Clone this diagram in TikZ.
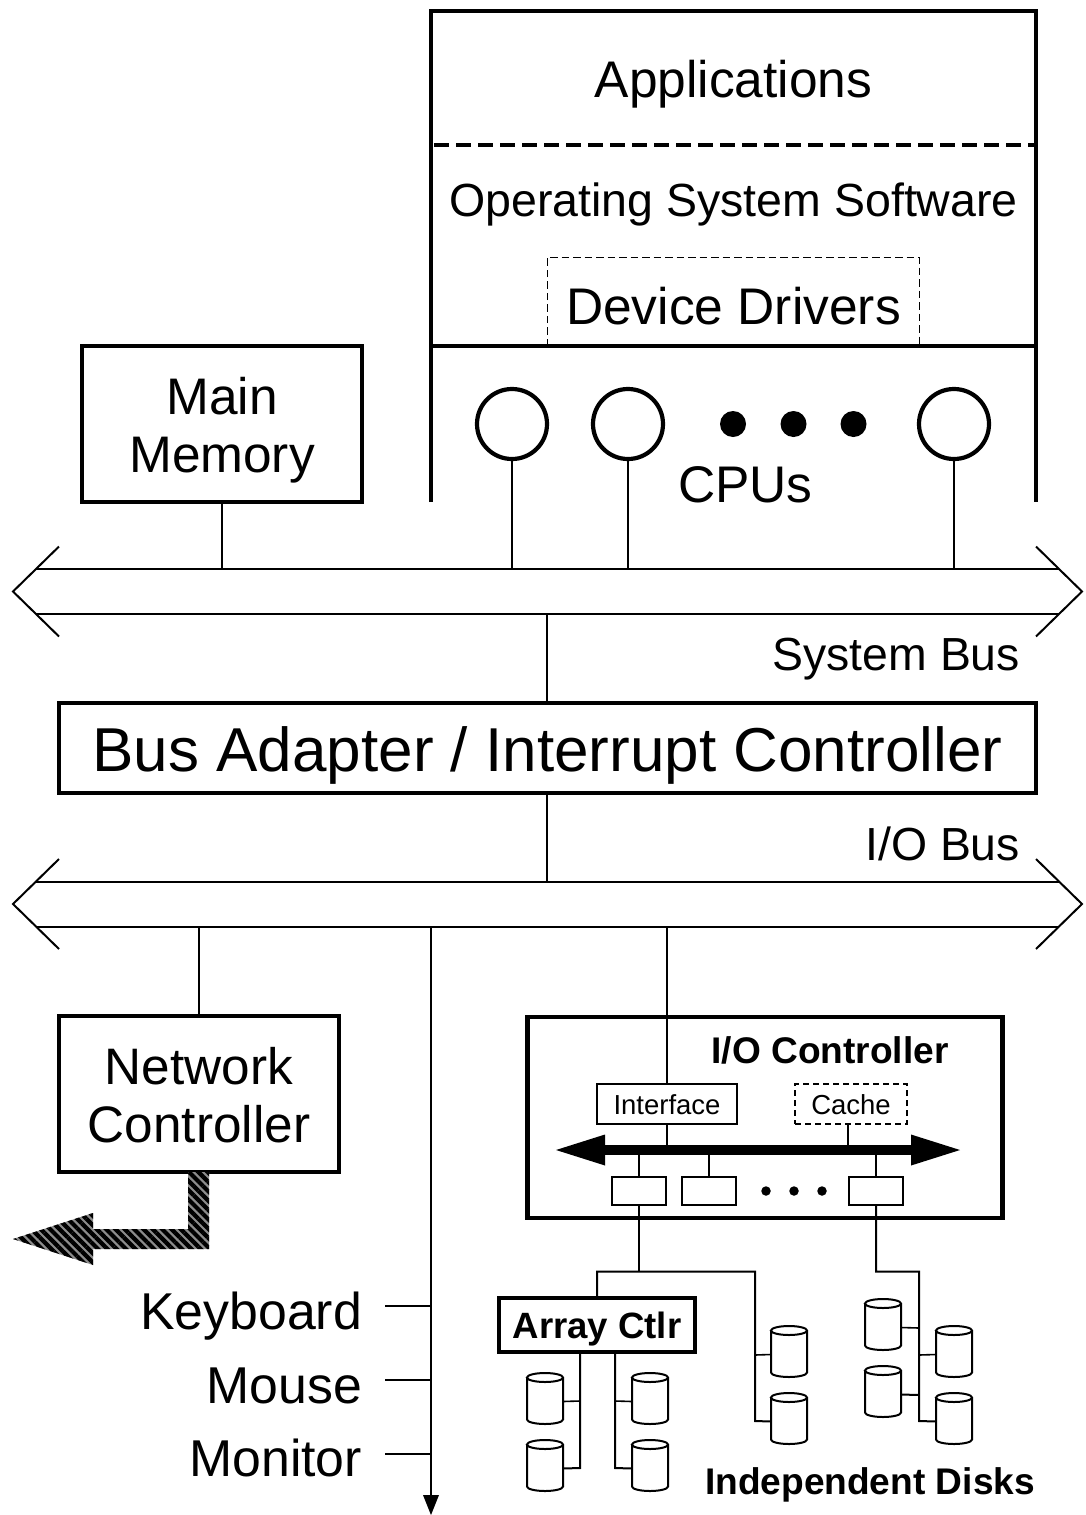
\documentclass[tikz,border=0pt]{standalone}
\usepackage{fontspec}
\setmainfont{Liberation Sans}
\usetikzlibrary{patterns.meta}
\newcommand{\lowered}[2]{\raisebox{-#1pt}[\height][\depth]{#2}}
\newcommand{\diskshape}[1]{%
  \draw[line width=2pt] ([yshift=-4.5pt]#1.north west) -- ([yshift=4.5pt]#1.south west)
    arc[start angle=180,end angle=360,x radius=18pt,y radius=4.5pt]
    -- ([yshift=-4.5pt]#1.north east)
    arc[start angle=0,end angle=360,x radius=18pt,y radius=4.5pt];
}
\tikzset{
  x=1pt,y=-1pt,
  every node/.style={inner sep=0pt,outer sep=0pt},
  fs/.style={font=\fontsize{#1}{#1}\selectfont},
  fsb/.style={font=\fontsize{#1}{#1}\selectfont\bfseries},
  heavy/.style={line width=4.6pt,line cap=butt},
  wire/.style={line width=2pt,line join=miter},
  thinwire/.style={line width=1.6pt},
  bigbox/.style={draw,line width=4.2pt,align=center,minimum width=#1},
  subbox/.style={draw,line width=2pt,minimum width=#1},
  slot/.style={draw,line width=2pt,minimum width=54pt,minimum height=28pt},
  disk/.style={minimum width=36pt,minimum height=51pt},
  cpu/.style={circle,draw,line width=4.2pt,minimum size=70pt},
  dot/.style={circle,fill=black,minimum size=#1},
  busarea/.style={minimum width=1069pt,minimum height=45pt},
  busline/.style={line width=2pt,line join=miter},
}
\begin{document}
\begin{tikzpicture}
\useasboundingbox (0,0) rectangle (1085,1515);
% software / CPU stack
\coordinate (stackTL) at (431,11);
\coordinate (stackTR) at (1036,11);
\coordinate (stackBL) at (431,502);
\coordinate (stackBR) at (1036,502);
\draw[heavy,line join=miter] (stackBL) -- (stackTL) -- (stackTR) -- (stackBR);
\draw[heavy] (stackTL |- 0,346) -- (stackTR |- 0,346);
\draw[heavy,dash pattern=on 15pt off 7pt,dash phase=-3pt] (stackTL |- 0,145) -- (stackTR |- 0,145);
\node[fs=51.5,anchor=base] (apps) at (733.5,97) {Applications};
\node[fs=46.5,anchor=base] (os) at (733.5,216.5) {Operating System Software};
\draw[line width=0.9pt,dash pattern=on 7.5pt off 4pt] (547,346) -- (547,257) -- (919,257) -- (919,346);
\node[fs=51.5,anchor=base] (drivers) at (733.5,324) {Device Drivers};
% CPUs
\node[cpu] (cpu1) at (512,424) {};
\node[cpu] (cpu2) at (628,424) {};
\node[cpu] (cpu3) at (954,424) {};
\node[dot=26pt] (d1) at (733,424) {};
\node[dot=26pt] (d2) at (793.5,424) {};
\node[dot=26pt] (d3) at (853.5,424) {};
\node[fs=51.5,anchor=base] (cpus) at (745.5,502) {CPUs};
% Buses
\node[busarea] (sysbus) at (547.5,591.5) {};
\node[busarea] (iobus) at (547.5,904) {};
\foreach \b in {sysbus,iobus}{
  \draw[busline] ([xshift=46pt,yshift=22.5pt]\b.north west) -- (\b.west) -- ([xshift=46pt,yshift=-22.5pt]\b.south west);
  \draw[busline] ([xshift=-46pt,yshift=22.5pt]\b.north east) -- (\b.east) -- ([xshift=-46pt,yshift=-22.5pt]\b.south east);
  \draw[busline] ([xshift=23pt]\b.north west) -- ([xshift=-23pt]\b.north east);
  \draw[busline] ([xshift=23pt]\b.south west) -- ([xshift=-23pt]\b.south east);
}
\node[fs=46.4,anchor=base east] (sysbuslabel) at (1020,670) {System Bus};
\node[fs=46.4,anchor=base east] (iobuslabel) at (1020,860) {I/O Bus};
% Main boxes
\node[bigbox=280pt,minimum height=156pt,font=\fontsize{51.4}{58}\selectfont] (mem) at (222,424) {\lowered{6}{Main}\\\lowered{6}{Memory}};
\node[bigbox=977pt,minimum height=90pt,fs=62] (adapter) at (547.5,748) {\lowered{7}{Bus Adapter / Interrupt Controller}};
\node[bigbox=280pt,minimum height=156pt,font=\fontsize{51.3}{58}\selectfont] (net) at (199,1094) {\lowered{1}{Network}\\\lowered{1}{Controller}};
\node[bigbox=475pt,minimum height=201pt] (ioc) at (765,1117.5) {};
\node[fsb=37.1,anchor=base] (ioctitle) at (830,1063) {I/O Controller};
% main connectors
\draw[wire] (mem.south) -- (mem.south |- sysbus.north);
\draw[wire] (cpu1.south) -- (cpu1.south |- sysbus.north);
\draw[wire] (cpu2.south) -- (cpu2.south |- sysbus.north);
\draw[wire] (cpu3.south) -- (cpu3.south |- sysbus.north);
\draw[wire] ([xshift=-0.5pt]sysbus.south) -- ([xshift=-0.5pt]adapter.north);
\draw[wire] ([xshift=-0.5pt]adapter.south) -- ([xshift=-0.5pt]iobus.north);
\draw[wire] (net.north) -- (net.north |- iobus.south);
% network output arrow
\coordinate (hatchstart) at (188,1172);
\path[draw=none,fill=black!45] (hatchstart) -- (209,1172) -- (209,1249) -- (93,1249) -- (93,1265) -- (13,1239) -- (93,1213) -- (93,1229) -- (188,1229) -- cycle;
\path[pattern={Lines[angle=-45,distance=6.6pt,line width=4.2pt]},pattern color=black] (hatchstart) -- (209,1172) -- (209,1249) -- (93,1249) -- (93,1265) -- (13,1239) -- (93,1213) -- (93,1229) -- (188,1229) -- cycle;
% peripherals
\coordinate (periphtop) at (431,926);
\coordinate (periphend) at (431,1515);
\draw[wire] (periphtop) -- (431,1496);
\fill (periphend) -- (423,1495) -- (439,1495) -- cycle;
\node[fs=51.8,anchor=base east] (kbd) at (362,1329) {Keyboard};
\node[fs=51.8,anchor=base east] (mouse) at (362,1403) {Mouse};
\node[fs=51.8,anchor=base east] (mon) at (362,1476) {Monitor};
\draw[wire] (385,1306) -- (431,1306);
\draw[wire] (385,1380) -- (431,1380);
\draw[wire] (385,1454) -- (431,1454);
% I/O controller contents
\node[subbox=140pt,minimum height=40pt,fs=27.5] (iface) at (667,1104) {\lowered{1}{Interface}};
\node[subbox=112pt,minimum height=40pt,dash pattern=on 6pt off 4pt,fs=27.5] (cache) at (851,1104) {\lowered{1}{Cache}};
\coordinate (ibusL) at (556,1150);
\coordinate (ibusR) at (960,1150);
\fill (ibusL) -- (605,1134.5) -- (605,1145.2) -- (911,1145.2) -- (911,1134.5) -- (ibusR) -- (911,1165.5) -- (911,1154.8) -- (605,1154.8) -- (605,1165.5) -- cycle;
\node[slot] (s1) at (639,1191) {};
\node[slot] (s2) at (709,1191) {};
\node[slot] (s3) at (876,1191) {};
\node[dot=9.5pt] (sd1) at (766,1191) {};
\node[dot=9.5pt] (sd2) at (794,1191) {};
\node[dot=9.5pt] (sd3) at (822,1191) {};
\draw[wire] (iface.north) -- (iface.north |- iobus.south);
\draw[wire] (iface.south) -- (iface.south |- ibusL);
\draw[wire] (848,1124) -- (848,1150);
\draw[wire] (s1.north) -- (s1.north |- ibusL);
\draw[wire] (s2.north) -- (s2.north |- ibusL);
\draw[wire] (s3.north) -- (s3.north |- ibusL);
% array controller and disks
\node[draw,line width=4.6pt,minimum width=196pt,minimum height=54pt,fsb=36.6] (array) at (597,1325) {\lowered{4}{Array Ctlr}};
\node[disk] (a1) at (545,1398.5) {};
\node[disk] (a2) at (545,1465.5) {};
\node[disk] (a3) at (650,1398.5) {};
\node[disk] (a4) at (650,1465.5) {};
\node[disk] (b1) at (789,1351.5) {};
\node[disk] (b2) at (789,1418.5) {};
\node[disk] (c1) at (883,1324.5) {};
\node[disk] (c2) at (883,1391.5) {};
\node[disk] (c3) at (954,1351.5) {};
\node[disk] (c4) at (954,1418.5) {};
\foreach \d in {a1,a2,a3,a4,b1,b2,c1,c2,c3,c4}{\diskshape{\d}}
\coordinate (tA) at (580,1353);
\coordinate (tB) at (615,1353);
\coordinate (hub1) at (639,1271.5);
\coordinate (hub2) at (876,1271.5);
\coordinate (tC) at (755,1271.5);
\coordinate (tD) at (919,1271.5);
\draw[wire] (s1.south) -- (hub1);
\draw[wire] (array.north) |- (hub1) -- (tC) -- (tC |- 0,1421) -- ([yshift=-3pt]b2.west);
\draw[thinwire] (tC |- 0,1355) -- ([yshift=-3pt]b1.west);
\draw[wire] (s3.south) -- (hub2) -- (tD) -- (tD |- 0,1421) -- ([yshift=-3pt]c4.west);
\draw[thinwire] (tD |- 0,1328) -- ([yshift=-3pt]c1.east);
\draw[wire] (tD |- 0,1395) -- ([yshift=-3pt]c2.east);
\draw[thinwire] (tD |- 0,1355) -- ([yshift=-3pt]c3.west);
\draw[wire] (tA) -- (580,1468) -- ([yshift=-3pt]a2.east);
\draw[thinwire] (580,1401) -- ([yshift=-3pt]a1.east);
\draw[wire] (tB) -- (615,1468) -- ([yshift=-3pt]a4.west);
\draw[thinwire] (615,1401) -- ([yshift=-3pt]a3.west);
\node[fsb=37.1,anchor=base] (indep) at (870,1494) {Independent Disks};
\end{tikzpicture}
\end{document}
